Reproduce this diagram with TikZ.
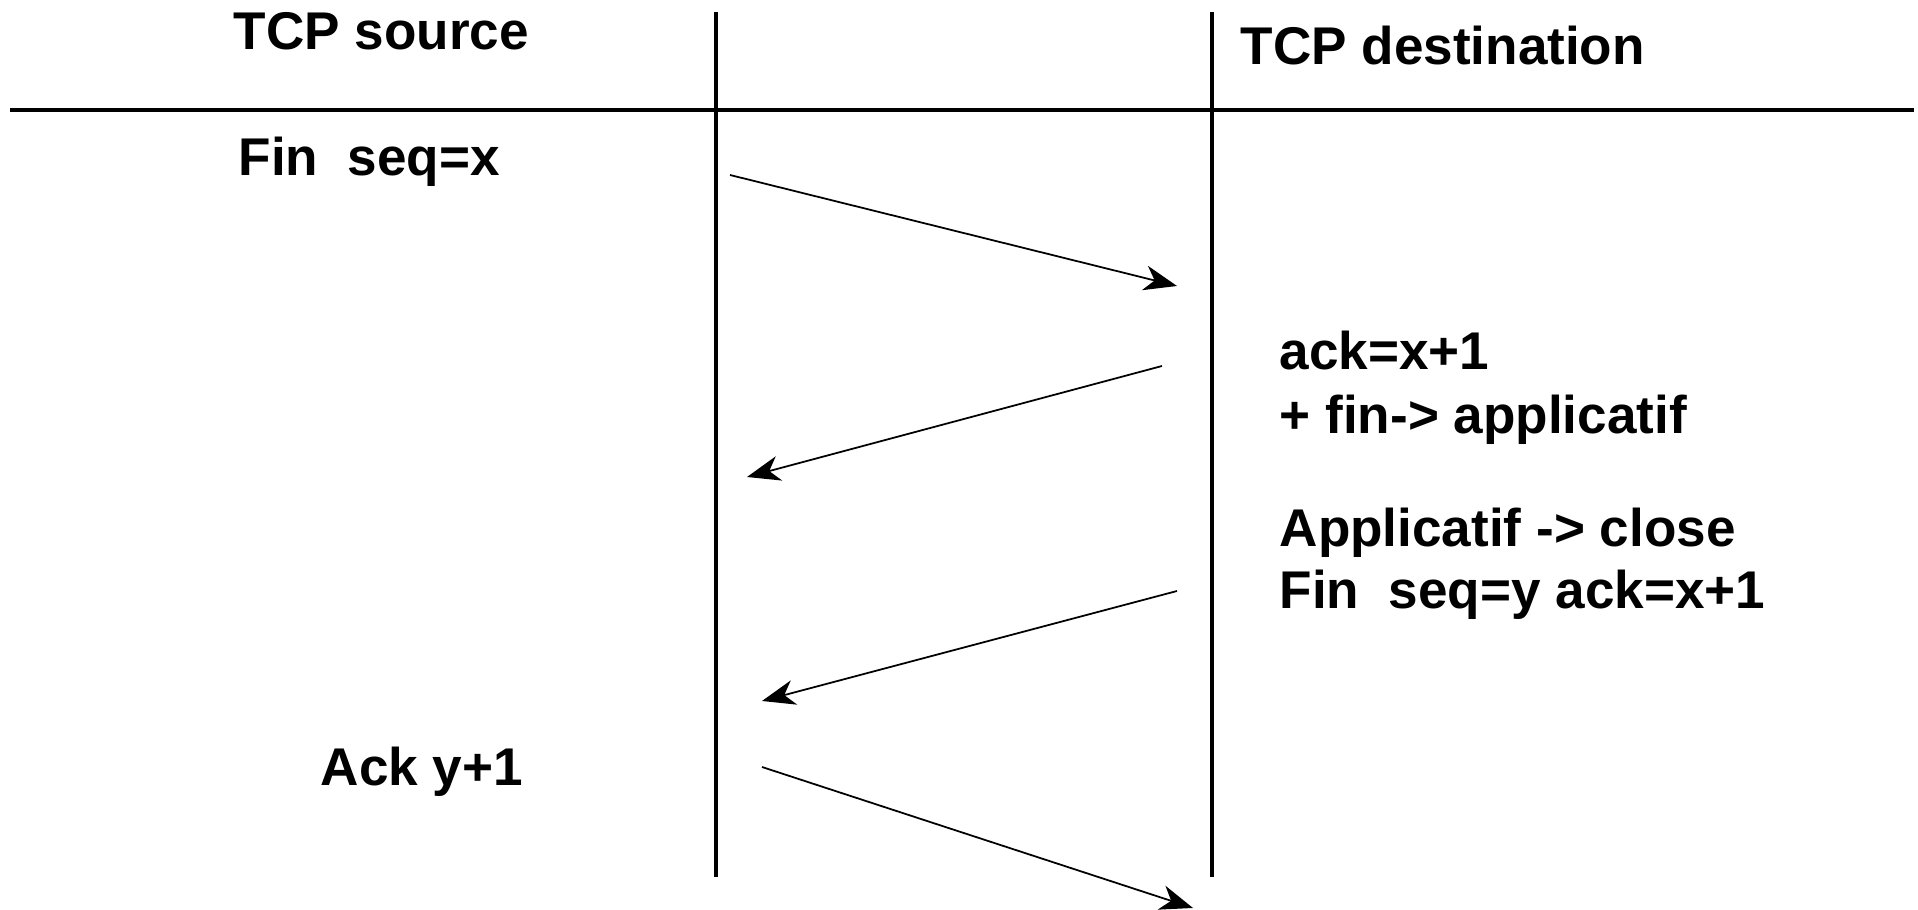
\documentclass[tikz,border=0pt]{standalone}
\usepackage{fontspec}
\setmainfont{Liberation Sans}[Ligatures={NoCommon}]
\usetikzlibrary{arrows.meta}

\def\xS{716}
\def\xD{1212}
\def\yT{12}
\def\yB{877}
\def\yH{110}

\begin{document}
\begin{tikzpicture}[x=0.01cm, y=-0.01cm,
    lbl/.style={anchor=base west, inner sep=0pt, font=\fontsize{15.1}{18}\selectfont\bfseries},
    lifeline/.style={line width=0.9pt},
    msg/.style={line width=0.5pt, -{Stealth[length=0.33cm, width=0.25cm, inset=0.1cm]}}]
    \useasboundingbox (0,0) rectangle (1918,910);

    %%   (lable)  (x, y)
    \coordinate (ST) at (\xS, \yT);
    \coordinate (SB) at (\xS, \yB);
    \coordinate (DT) at (\xD, \yT);
    \coordinate (DB) at (\xD, \yB);
    \coordinate (HL) at (  10, \yH);
    \coordinate (HR) at (1914, \yH);

    \coordinate (M1a) at ( 730, 175);
    \coordinate (M1b) at (1177, 286);
    \coordinate (M2a) at (1162, 366);
    \coordinate (M2b) at ( 747, 477);
    \coordinate (M3a) at (1177, 591);
    \coordinate (M3b) at ( 762, 701);
    \coordinate (M4a) at ( 762, 767);
    \coordinate (M4b) at (1193, 908);

    \node[lbl] (src)  at ( 233,  50) {TCP source};
    \node[lbl] (dst)  at (1240,  65) {TCP destination};

    \node[lbl] (fin1) at ( 238, 176) {Fin\ \ seq=x};
    \node[lbl] (ack1) at (1279, 370) {ack=x+1};
    \node[lbl] (app1) at (1279, 434) {+ fin-> applicatif};
    \node[lbl] (app2) at (1279, 547) {Applicatif -> close};
    \node[lbl] (fin2) at (1279, 609) {Fin\ \ seq=y ack=x+1};
    \node[lbl] (ack2) at ( 320, 786) {Ack y+1};

    \draw[lifeline] (HL) -- (HR);
    \draw[lifeline] (ST) -- (SB);
    \draw[lifeline] (DT) -- (DB);

    \path[msg] (M1a) edge (M1b);
    \path[msg] (M2a) edge (M2b);
    \path[msg] (M3a) edge (M3b);
    \path[msg] (M4a) edge (M4b);

\end{tikzpicture}
\end{document}
